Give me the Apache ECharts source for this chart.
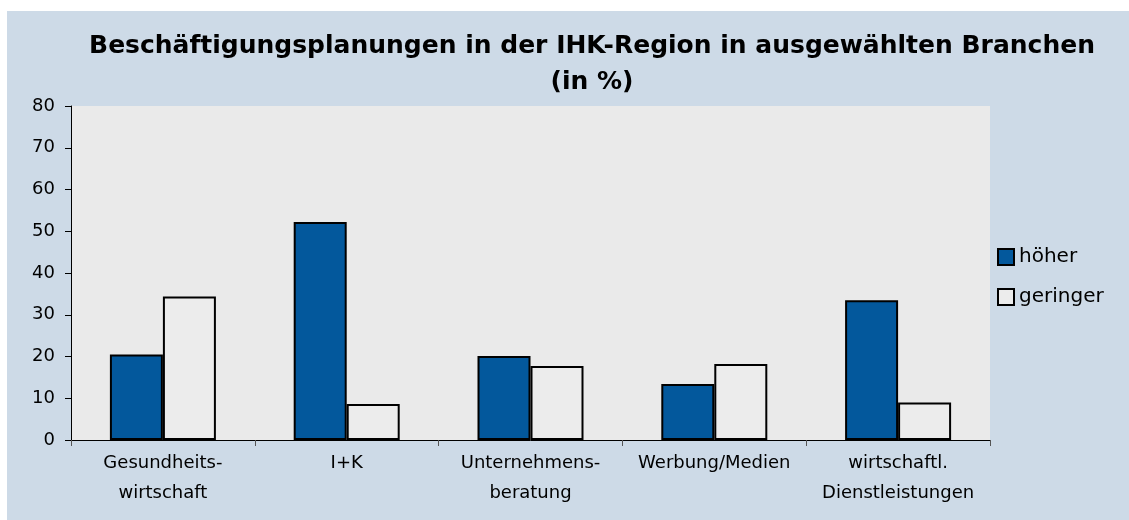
<!DOCTYPE html>
<html>
<head>
<meta charset="utf-8">
<script src="https://cdn.jsdelivr.net/npm/echarts@6/dist/echarts.min.js"></script>
<style>
  html, body { margin: 0; padding: 0; background: #ffffff; }
  #bg { position: absolute; left: 7px; top: 11px; width: 1122px; height: 509px; background: #CDDAE7; }
  #chart { position: absolute; left: 0; top: 0; width: 1129px; height: 520px; }
</style>
</head>
<body>
<div id="bg"></div>
<div id="chart"></div>
<script>
const titleText = 'Beschäftigungsplanungen in der IHK-Region in ausgewählten Branchen\n(in %)';
const categories = ['Gesundheits-\nwirtschaft', 'I+K', 'Unternehmens-\nberatung', 'Werbung/Medien', 'wirtschaftl.\nDienstleistungen'];
const seriesNames = ['höher', 'geringer'];
const hoeher = [20.5, 52.2, 20.1, 13.4, 33.5];
const geringer = [34.4, 8.6, 17.7, 18.2, 9.0];
const yTicks = { min: 0, max: 80, interval: 10 };

const chart = echarts.init(document.getElementById('chart'), null, { renderer: 'canvas' });
const font = 'DejaVu Sans';
chart.setOption({
  backgroundColor: 'transparent',
  animation: false,
  title: {
    text: titleText,
    left: 592,
    top: 28,
    padding: 0,
    textAlign: 'center',
    textStyle: { fontFamily: font, fontWeight: 'bold', fontSize: 25, color: '#000', lineHeight: 36 }
  },
  legend: {
    orient: 'vertical',
    left: 992,
    top: 242,
    itemWidth: 16,
    itemHeight: 16,
    itemGap: 20,
    icon: 'rect',
    textStyle: { fontFamily: font, fontSize: 20, color: '#000' },
    data: seriesNames
  },
  grid: {
    left: 71, top: 106, width: 919, height: 334,
    show: true, backgroundColor: '#EAEAEA', borderWidth: 0,
    containLabel: false
  },
  xAxis: {
    type: 'category',
    data: categories,
    boundaryGap: true,
    axisLine: { show: true, lineStyle: { color: '#000', width: 1 } },
    axisTick: { show: true, length: 6, alignWithLabel: false, lineStyle: { color: '#555' } },
    axisLabel: { interval: 0, margin: 8, fontFamily: font, fontSize: 18, color: '#000', lineHeight: 30 },
    splitLine: { show: false }
  },
  yAxis: {
    type: 'value',
    min: yTicks.min, max: yTicks.max, interval: yTicks.interval,
    axisLine: { show: true, lineStyle: { color: '#000', width: 1 } },
    axisTick: { show: true, length: 6, inside: false, lineStyle: { color: '#000' } },
    axisLabel: { margin: 16, fontFamily: font, fontSize: 18, color: '#000' },
    splitLine: { show: false }
  },
  series: [
    {
      name: seriesNames[0], type: 'bar', data: hoeher,
      barWidth: 53, barGap: '0%',
      itemStyle: { color: '#03589C', borderColor: '#000', borderWidth: 2 }
    },
    {
      name: seriesNames[1], type: 'bar', data: geringer,
      barWidth: 53, barGap: '0%',
      itemStyle: { color: '#ECECEC', borderColor: '#000', borderWidth: 2 }
    }
  ]
});
</script>
</body>
</html>
